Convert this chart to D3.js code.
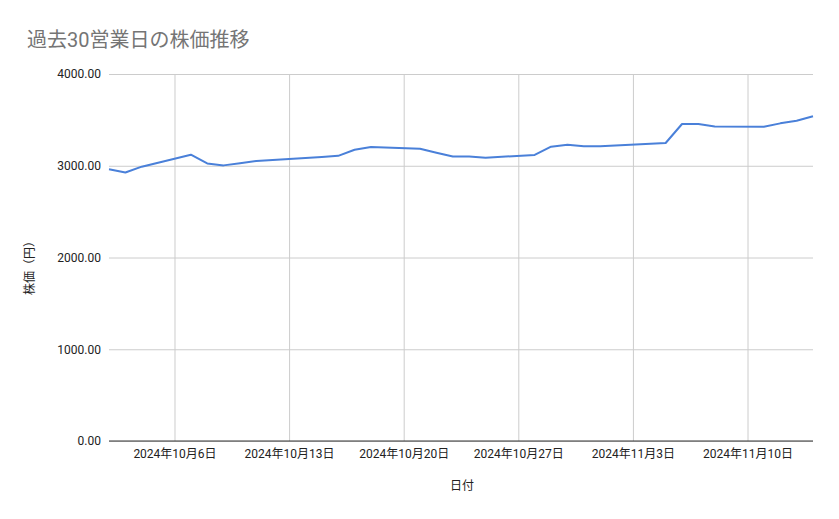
<!DOCTYPE html>
<html>
<head>
<meta charset="utf-8">
<script src="https://cdn.jsdelivr.net/npm/d3@7"></script>
<style>
  body { margin: 0; background: #fff; }
  text { font-family: Roboto, "Noto Sans CJK JP", sans-serif; }
</style>
</head>
<body>
<div id="chart"></div>
<script>
// 30 business days (holidays 10/14 and 11/4 are skipped)
const dates = [
    '2024-10-02', '2024-10-03', '2024-10-04', '2024-10-07', '2024-10-08',
    '2024-10-09', '2024-10-10', '2024-10-11', '2024-10-15', '2024-10-16',
    '2024-10-17', '2024-10-18', '2024-10-21', '2024-10-22', '2024-10-23',
    '2024-10-24', '2024-10-25', '2024-10-28', '2024-10-29', '2024-10-30',
    '2024-10-31', '2024-11-01', '2024-11-05', '2024-11-06', '2024-11-07',
    '2024-11-08', '2024-11-11', '2024-11-12', '2024-11-13', '2024-11-14'
];
const prices = [
    2962, 2926, 2990, 3120, 3025,
    3004, 3028, 3052, 3095, 3108,
    3175, 3205, 3186, 3142, 3100,
    3100, 3088, 3118, 3208, 3228,
    3213, 3212, 3248, 3455, 3455,
    3428, 3425, 3462, 3490, 3540
];
const yTicks = [0, 1000, 2000, 3000, 4000];
const xTickDates = ['2024-10-06', '2024-10-13', '2024-10-20', '2024-10-27', '2024-11-03', '2024-11-10'];

const title = '過去30営業日の株価推移';
const yLabel = '株価（円）';
const xLabel = '日付';

const width = 839;
const height = 519;
const margin = {left: 109, right: 26, top: 74, bottom: 78};

const parse = d3.timeParse('%Y-%m-%d');
let data = dates.map((d, i) => ({date: parse(d), value: prices[i]}));

let svg = d3.select('#chart').append('svg')
    .attr('width', width)
    .attr('height', height);

let x = d3.scaleTime()
    .domain([parse('2024-10-02'), parse('2024-11-14')])
    .range([margin.left, width - margin.right]);

let y = d3.scaleLinear()
    .domain([0, 4000])
    .range([height - margin.bottom, margin.top]);

// title
svg.append('text')
    .attr('x', 27)
    .attr('y', 47)
    .attr('font-size', 20)
    .attr('fill', '#757575')
    .text(title);

// horizontal grid
svg.append('g')
    .attr('transform', 'translate(' + margin.left + ',0)')
    .call(d3.axisLeft(y).tickValues(yTicks).tickSize(-(width - margin.left - margin.right)).tickFormat(''))
    .call(g => g.select('.domain').remove())
    .call(g => g.selectAll('line').attr('stroke', '#cccccc'));

// vertical grid
svg.append('g')
    .attr('transform', 'translate(0,' + (height - margin.bottom) + ')')
    .call(d3.axisBottom(x).tickValues(xTickDates.map(parse)).tickSize(-(height - margin.top - margin.bottom)).tickFormat(''))
    .call(g => g.select('.domain').remove())
    .call(g => g.selectAll('line').attr('stroke', '#cccccc'));

// y tick labels
svg.append('g')
    .attr('transform', 'translate(' + margin.left + ',0)')
    .call(d3.axisLeft(y).tickValues(yTicks).tickSize(0).tickPadding(8).tickFormat(d3.format('.2f')))
    .call(g => g.select('.domain').remove())
    .call(g => g.selectAll('text').attr('font-size', 12).attr('fill', '#222')
        .style('font-family', 'Roboto, "Noto Sans CJK JP", sans-serif'));

// x tick labels
svg.append('g')
    .attr('transform', 'translate(0,' + (height - margin.bottom) + ')')
    .call(d3.axisBottom(x).tickValues(xTickDates.map(parse)).tickSize(0).tickPadding(8)
        .tickFormat(d => d.getFullYear() + '年' + (d.getMonth() + 1) + '月' + d.getDate() + '日'))
    .call(g => g.select('.domain').remove())
    .call(g => g.selectAll('text').attr('font-size', 12).attr('fill', '#222')
        .style('font-family', 'Roboto, "Noto Sans CJK JP", sans-serif'));

// baseline
svg.append('line')
    .attr('x1', margin.left)
    .attr('x2', width - margin.right)
    .attr('y1', y(0))
    .attr('y2', y(0))
    .attr('stroke', '#333')
    .attr('stroke-width', 1);

// line
let line = d3.line()
    .x(d => x(d.date))
    .y(d => y(d.value));

svg.append('path')
    .datum(data)
    .attr('d', line)
    .attr('fill', 'none')
    .attr('stroke', '#4a80d9')
    .attr('stroke-width', 2)
    .attr('stroke-linejoin', 'round');

// axis titles
svg.append('text')
    .attr('transform', 'translate(34,265)rotate(-90)')
    .attr('text-anchor', 'middle')
    .attr('font-size', 12)
    .attr('fill', '#222')
    .text(yLabel);

svg.append('text')
    .attr('x', 462)
    .attr('y', 490)
    .attr('text-anchor', 'middle')
    .attr('font-size', 12)
    .attr('fill', '#222')
    .text(xLabel);
</script>
</body>
</html>
